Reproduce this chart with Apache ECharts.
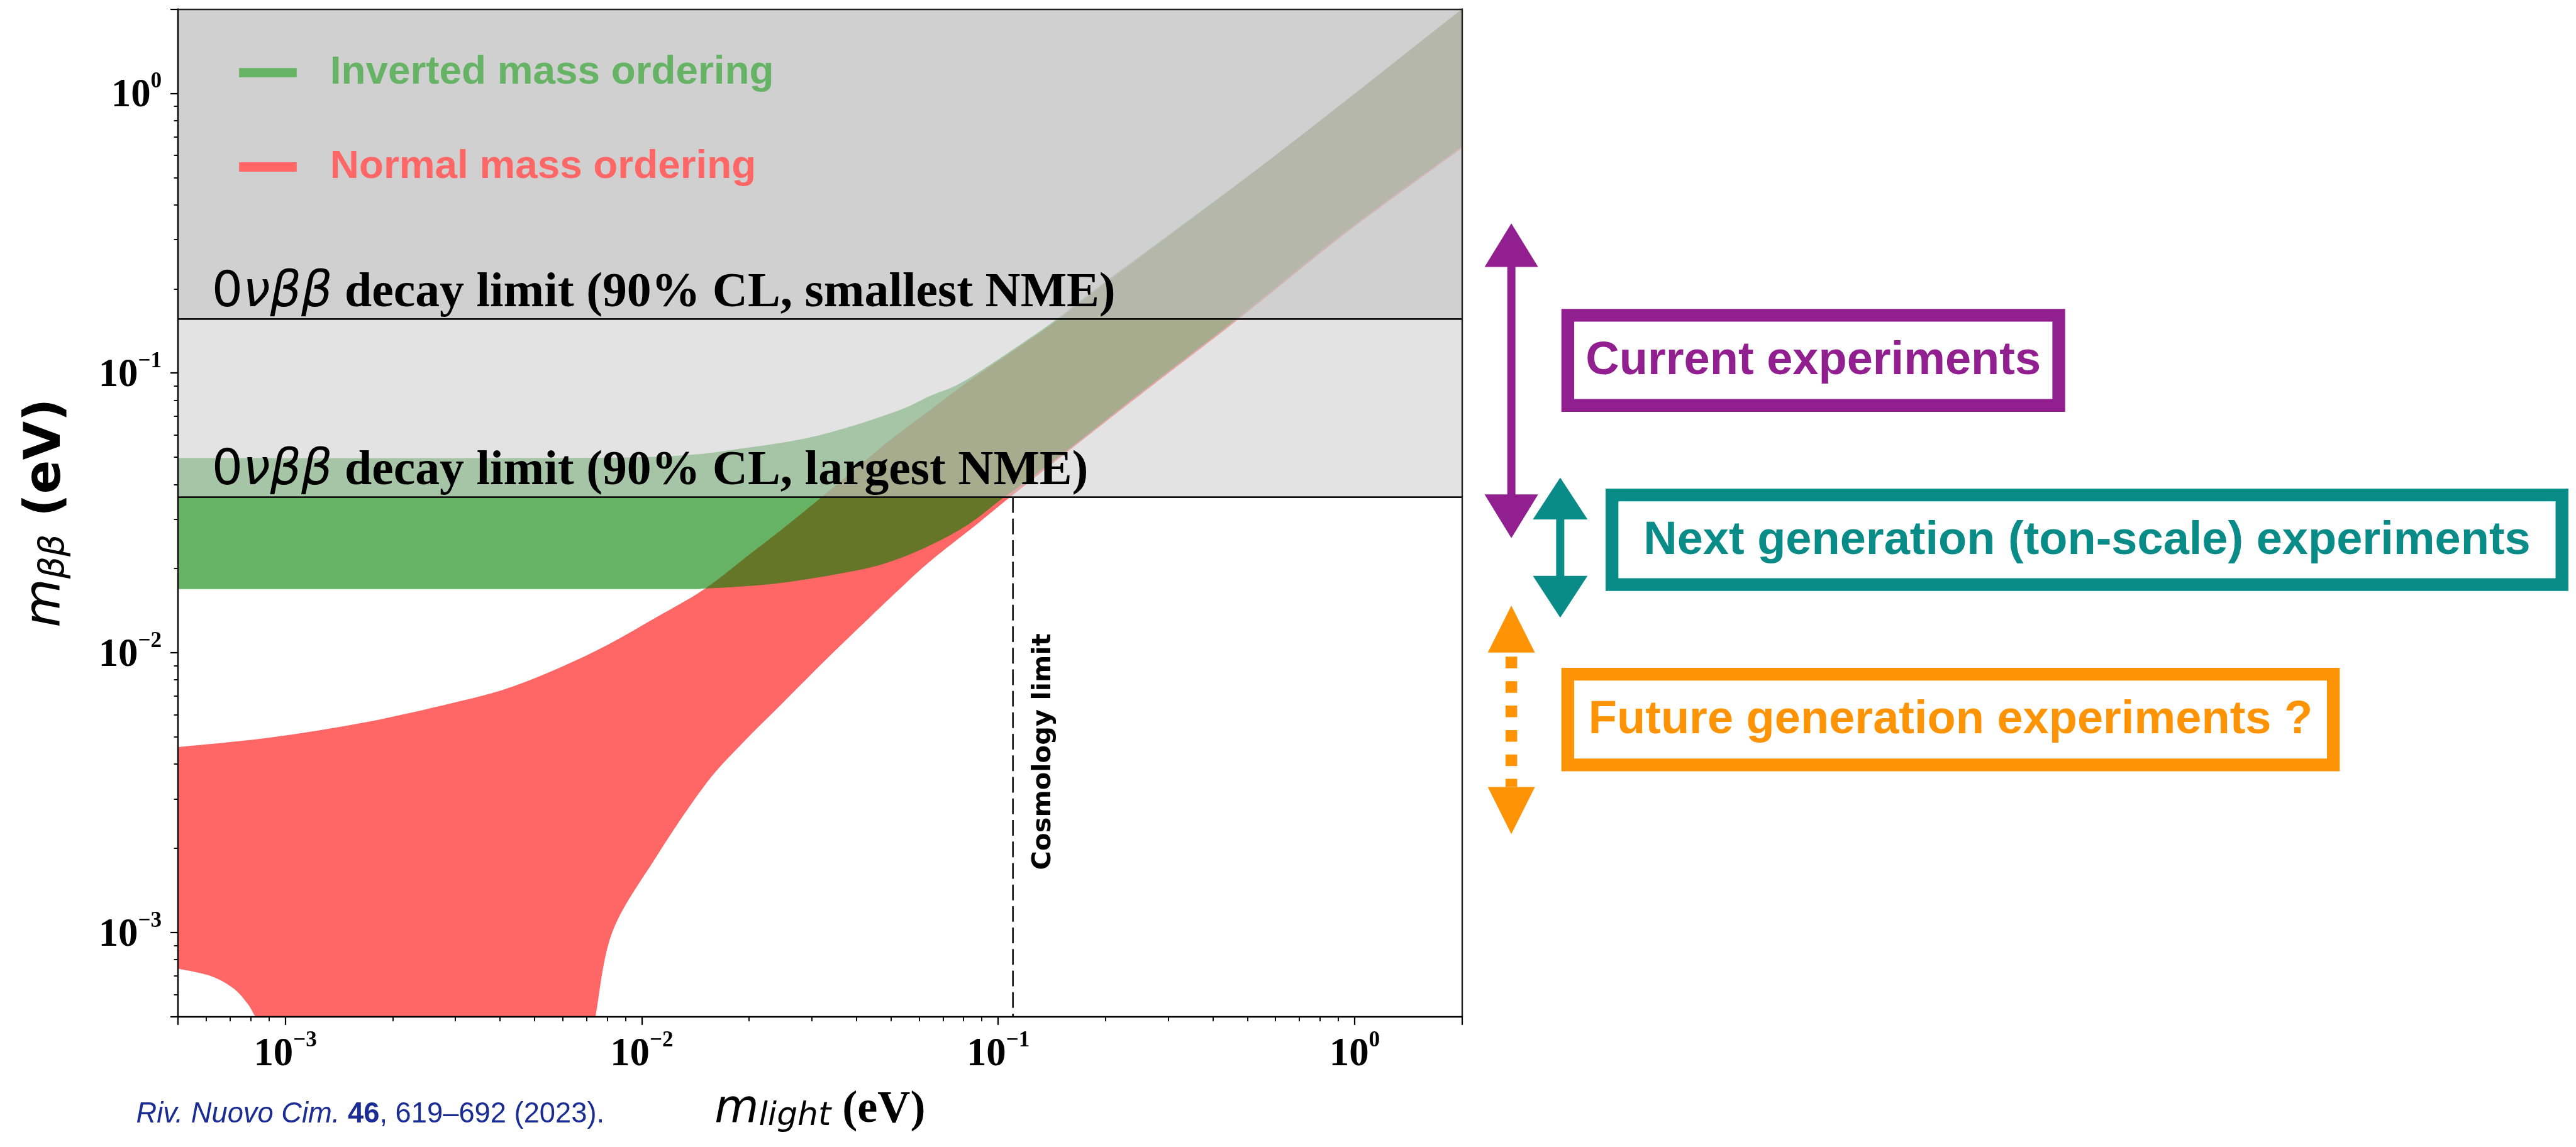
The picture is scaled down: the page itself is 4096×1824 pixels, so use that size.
<!DOCTYPE html>
<html>
<head>
<meta charset="utf-8">
<title>m_bb vs m_light</title>
<script src="https://cdn.jsdelivr.net/npm/echarts@6/dist/echarts.min.js"></script>
<style>
  html, body { margin: 0; padding: 0; background: #fff; }
  #chart { width: 4096px; height: 1824px; }
</style>
</head>
<body>
<div id="chart"></div>
<script>
// everything is laid out in reference pixels and scaled down
var S = 0.925;
function s(v) { return v * S; }

// axis ranges (eV)
var xMin = 5e-4, xMax = 2, yMin = 5e-4, yMax = 2;

// normal ordering band
var noUpperM = [5e-4, 9.1e-4, 1.7e-3, 3.16e-3, 4.31e-3, 5.89e-3, 8.05e-3, 0.0110, 0.0150, 0.0200, 0.0249, 0.0316, 0.0402, 0.0511, 0.0648, 0.0826, 0.140, 0.191, 0.60, 2.0];
var noUpperV = [4.6e-3, 4.98e-3, 5.66e-3, 6.76e-3, 7.55e-3, 8.85e-3, 0.0107, 0.0134, 0.0169, 0.0224, 0.0278, 0.0356, 0.046, 0.0592, 0.0742, 0.0934, 0.148, 0.200, 0.60, 2.0];
var noLowerM = [5e-4, 6.2e-4, 7.16e-4, 7.83e-4, 8.26e-4, 8.5e-4, 7.25e-3, 7.41e-3, 8.26e-3, 0.011, 0.0150, 0.019, 0.0248, 0.033, 0.0434, 0.0529, 0.0646, 0.0886, 0.108, 0.140, 0.1696, 0.1993, 0.287, 0.473, 0.938, 2.0];
var noLowerV = [7.43e-4, 6.98e-4, 6.31e-4, 5.58e-4, 5.0e-4, 1e-6, 1e-6, 5.0e-4, 1.0e-3, 1.87e-3, 3.35e-3, 4.7e-3, 6.6e-3, 9.5e-3, 0.0133, 0.0169, 0.0213, 0.0293, 0.036, 0.0468, 0.0567, 0.0666, 0.0955, 0.156, 0.314, 0.637];

// inverted ordering band
var ioUpperM = [5e-4, 0.005, 0.0121, 0.0196, 0.0316, 0.0511, 0.0649, 0.0826, 0.140, 0.191, 0.60, 2.0];
var ioUpperV = [0.0497, 0.0497, 0.0505, 0.0540, 0.0600, 0.0725, 0.0832, 0.0956, 0.150, 0.203, 0.60, 2.0];
var ioLowerM = [5e-4, 0.010, 0.0154, 0.0248, 0.0402, 0.0511, 0.0648, 0.0826, 0.1027, 0.1185, 0.1696, 0.1993, 0.287, 0.473, 0.938, 2.0];
var ioLowerV = [0.0169, 0.0169, 0.0170, 0.0178, 0.0197, 0.0214, 0.0243, 0.0288, 0.0356, 0.0405, 0.0575, 0.0676, 0.0970, 0.1585, 0.319, 0.647];

// 0vbb limits (largest / smallest NME) and cosmology bound
var limitValues = [0.036, 0.156];
var limitNames = ['largest NME', 'smallest NME'];
var cosmoLimit = [0.11];

var noColor = 'rgba(255,0,0,0.6)';
var ioColor = 'rgba(0,128,0,0.6)';
var overlayFill = ['rgba(208,208,208,0.6)', 'rgba(193,193,193,0.56)'];

function pairs(ms, vs) {
  return ms.map(function (m, i) { return [m, vs[i]]; });
}

function clampPt(p, cs) {
  return [Math.min(Math.max(p[0], cs.x), cs.x + cs.width),
          Math.min(Math.max(p[1], cs.y), cs.y + cs.height)];
}

// catmull-rom through pixel points, control points kept inside the grid
function smoothSeg(pts, cs) {
  var d = '';
  for (var i = 0; i < pts.length - 1; i++) {
    var p0 = pts[i - 1] || pts[i], p1 = pts[i], p2 = pts[i + 1], p3 = pts[i + 2] || p2;
    var c1 = clampPt([p1[0] + (p2[0] - p0[0]) / 6, p1[1] + (p2[1] - p0[1]) / 6], cs);
    var c2 = clampPt([p2[0] - (p3[0] - p1[0]) / 6, p2[1] - (p3[1] - p1[1]) / 6], cs);
    d += ' C' + c1[0] + ' ' + c1[1] + ' ' + c2[0] + ' ' + c2[1] + ' ' + p2[0] + ' ' + p2[1];
  }
  return d;
}

function bandSeries(name, upper, lower, fill, z) {
  return {
    name: name,
    type: 'custom',
    z: z,
    itemStyle: { color: fill },
    encode: { x: 0, y: 1 },
    data: upper.concat(lower.slice().reverse()),
    renderItem: function (params, api) {
      if (params.dataIndex !== 0) return;
      var cs = params.coordSys;
      var up = upper.map(function (p) { return clampPt(api.coord(p), cs); });
      var lo = lower.slice().reverse().map(function (p) { return clampPt(api.coord(p), cs); });
      var d = 'M' + up[0][0] + ' ' + up[0][1] + smoothSeg(up, cs) +
              ' L' + lo[0][0] + ' ' + lo[0][1] + smoothSeg(lo, cs) + ' Z';
      return { type: 'path', shape: { pathData: d }, style: { fill: fill } };
    }
  };
}

var limitRich = {
  z: { fontFamily: 'DejaVu Sans', fontSize: s(84), fill: '#000', verticalAlign: 'bottom' },
  g: { fontFamily: 'DejaVu Sans', fontStyle: 'italic', fontSize: s(84), fill: '#000', verticalAlign: 'bottom' },
  t: { fontFamily: 'Liberation Serif', fontWeight: 'bold', fontSize: s(84), fill: '#000', verticalAlign: 'bottom' }
};

function powLabel(v) {
  var e = Math.log10(v), r = Math.round(e);
  if (Math.abs(e - r) > 1e-6) return '';
  return '{b|10}{p|' + (r < 0 ? '\u2212' + (-r) : r) + '}';
}
var tickRich = {
  b: { fontFamily: 'Liberation Serif', fontWeight: 'bold', fontSize: s(68), color: '#000', verticalAlign: 'bottom' },
  p: { fontFamily: 'Liberation Serif', fontWeight: 'bold', fontSize: s(38), color: '#000', verticalAlign: 'bottom', padding: [0, 0, s(40), 0] }
};

var purple = '#911f90', teal = '#098b87', orange = '#ff9306';

function arrow(x, y1, y2, headW, headL, shaftW, color, dashed) {
  var els = [
    { type: 'polygon', shape: { points: [[x, y1], [x - headW / 2, y1 + headL], [x + headW / 2, y1 + headL]] }, style: { fill: color } },
    { type: 'polygon', shape: { points: [[x, y2], [x - headW / 2, y2 - headL], [x + headW / 2, y2 - headL]] }, style: { fill: color } }
  ];
  if (dashed) {
    els.push({ type: 'line', shape: { x1: x, y1: y1 + headL + s(7), x2: x, y2: y2 - headL }, style: { stroke: color, lineWidth: shaftW, lineDash: [s(20), s(22)] } });
  } else {
    els.push({ type: 'rect', shape: { x: x - shaftW / 2, y: y1 + headL - 2, width: shaftW, height: y2 - y1 - 2 * headL + 4 }, style: { fill: color } });
  }
  return els;
}

function box(x1, y1, x2, y2, color, label) {
  return [
    { type: 'rect', shape: { x: s(x1), y: s(y1), width: s(x2 - x1), height: s(y2 - y1) }, style: { fill: 'none', stroke: color, lineWidth: s(22) } },
    { type: 'text', x: s((x1 + x2) / 2), y: s((y1 + y2) / 2 + 2), style: { text: label, fill: color, fontFamily: 'Liberation Sans', fontWeight: 'bold', fontSize: s(80), align: 'center', verticalAlign: 'middle' } }
  ];
}

var graphics = []
  .concat(arrow(s(2598), s(384), s(925), s(92), s(75), s(14), purple, false))
  .concat(arrow(s(2682), s(821), s(1062), s(94), s(72), s(14), teal, false))
  .concat(arrow(s(2598), s(1041), s(1434), s(81), s(81), s(20), orange, true))
  .concat(box(2695, 542, 3539, 697, purple, 'Current experiments'))
  .concat(box(2771, 851, 4404, 1005, teal, 'Next generation (ton-scale) experiments'))
  .concat(box(2695, 1159, 4011, 1315, orange, 'Future generation experiments ?'));

var citeColor = '#1b2c94';
graphics.push({
  type: 'text', x: s(234), y: s(1916),
  style: {
    text: '{i|Riv. Nuovo Cim. }{b|46}{r|, 619\u2013692 (2023).}',
    verticalAlign: 'middle',
    rich: {
      i: { fontFamily: 'Liberation Sans', fontStyle: 'italic', fontSize: s(49), fill: citeColor },
      b: { fontFamily: 'Liberation Sans', fontWeight: 'bold', fontSize: s(49), fill: citeColor },
      r: { fontFamily: 'Liberation Sans', fontSize: s(49), fill: citeColor }
    }
  }
});

var chart = echarts.init(document.getElementById('chart'));

var option = {
  backgroundColor: '#fff',
  animation: false,
  grid: {
    left: s(306), top: s(15.6), width: s(2207), height: s(1732.4),
    containLabel: false, outerBoundsMode: 'none',
    show: false
  },
  legend: {
    orient: 'vertical', left: s(411), top: s(125) - s(49.5), padding: 0, z: 20,
    itemWidth: s(99), itemHeight: s(16), itemGap: s(63),
    selectedMode: false,
    textStyle: { fontFamily: 'Liberation Sans', fontWeight: 'bold', fontSize: s(69), lineHeight: s(69), padding: [s(30), 0, 0, s(52)] },
    data: [
      { name: 'Inverted mass ordering', icon: 'rect', itemStyle: { color: '#66b366' }, textStyle: { color: '#66b366' } },
      { name: 'Normal mass ordering', icon: 'rect', itemStyle: { color: '#ff6666' }, textStyle: { color: '#ff6666' } }
    ]
  },
  xAxis: [{
    type: 'log', logBase: 10, min: xMin, max: xMax, z: 10,
    axisLine: { show: true, lineStyle: { color: '#000', width: s(2.6) } },
    axisTick: { show: true, length: s(14), lineStyle: { color: '#000', width: s(2.4) } },
    minorTick: { show: true, splitNumber: 9, length: s(8), lineStyle: { color: '#000', width: s(2) } },
    splitLine: { show: false },
    axisLabel: { formatter: powLabel, rich: tickRich, margin: s(22), showMinLabel: false, showMaxLabel: false },
    name: '{m|m}{sub|light}{u| (eV)}',
    nameLocation: 'middle', nameGap: s(122),
    nameTextStyle: {
      rich: {
        m: { fontFamily: 'DejaVu Sans', fontStyle: 'italic', fontSize: s(78), color: '#000', verticalAlign: 'bottom' },
        sub: { fontFamily: 'DejaVu Sans', fontStyle: 'italic', fontSize: s(56), color: '#000', verticalAlign: 'bottom' },
        u: { fontFamily: 'Liberation Serif', fontWeight: 'bold', fontSize: s(78), color: '#000', verticalAlign: 'bottom' }
      }
    }
  }, {
    type: 'value', position: 'top', min: 0, max: 1, z: 10,
    axisLine: { show: true, lineStyle: { color: '#222', width: s(2.6) } },
    axisTick: { show: false }, axisLabel: { show: false }, splitLine: { show: false }
  }],
  yAxis: [{
    type: 'log', logBase: 10, min: yMin, max: yMax, z: 10,
    axisLine: { show: true, lineStyle: { color: '#000', width: s(2.6) } },
    axisTick: { show: true, length: s(13), lineStyle: { color: '#000', width: s(2.4) } },
    minorTick: { show: true, splitNumber: 9, length: s(7), lineStyle: { color: '#000', width: s(2) } },
    splitLine: { show: false },
    axisLabel: { formatter: powLabel, rich: tickRich, margin: s(28), showMinLabel: false, showMaxLabel: false },
    name: '{m|m}{sub|\u03b2\u03b2}{u| (eV)}',
    nameLocation: 'middle', nameRotate: 90, nameGap: s(182),
    nameTextStyle: {
      rich: {
        m: { fontFamily: 'DejaVu Sans', fontStyle: 'italic', fontSize: s(86), color: '#000', verticalAlign: 'bottom' },
        sub: { fontFamily: 'DejaVu Sans', fontStyle: 'italic', fontSize: s(60), color: '#000', verticalAlign: 'bottom' },
        u: { fontFamily: 'DejaVu Sans', fontWeight: 'bold', fontSize: s(86), color: '#000', verticalAlign: 'bottom' }
      }
    }
  }, {
    type: 'value', position: 'right', min: 0, max: 1, z: 10,
    axisLine: { show: true, lineStyle: { color: '#222', width: s(2.6) } },
    axisTick: { show: false }, axisLabel: { show: false }, splitLine: { show: false }
  }],
  graphic: graphics,
  series: [
    bandSeries('Normal mass ordering', pairs(noUpperM, noUpperV), pairs(noLowerM, noLowerV), noColor, 2),
    bandSeries('Inverted mass ordering', pairs(ioUpperM, ioUpperV), pairs(ioLowerM, ioLowerV), ioColor, 3),
    {
      name: 'limits', type: 'custom', z: 4,
      encode: { y: 0 },
      data: limitValues.map(function (v) { return [v]; }),
      renderItem: function (params, api) {
        var cs = params.coordSys;
        var v = api.value(0);
        var py = api.coord([xMin, v])[1];
        return {
          type: 'group',
          children: [
            { type: 'rect', shape: { x: cs.x, y: cs.y, width: cs.width, height: py - cs.y }, style: { fill: overlayFill[params.dataIndex] } },
            { type: 'line', shape: { x1: cs.x, y1: py, x2: cs.x + cs.width, y2: py }, style: { stroke: '#111', lineWidth: s(3) }, z2: 5 },
            {
              type: 'text', x: cs.x + s(58), y: py - s(2), z2: 6,
              style: {
                text: '{z|0}{g|\u03bd\u03b2\u03b2}{t| decay limit (90% CL, ' + limitNames[params.dataIndex] + ')}',
                rich: limitRich, verticalAlign: 'bottom'
              }
            }
          ]
        };
      }
    },
    {
      name: 'cosmology', type: 'custom', z: 5,
      encode: { x: 0 },
      data: cosmoLimit.map(function (v) { return [v]; }),
      renderItem: function (params, api) {
        var v = api.value(0);
        var p1 = api.coord([v, limitValues[0]]);
        var p2 = api.coord([v, yMin]);
        return {
          type: 'group',
          children: [
            { type: 'line', shape: { x1: p1[0], y1: p1[1], x2: p2[0], y2: p2[1] }, style: { stroke: '#222', lineWidth: s(3), lineDash: [s(27), s(10)] } },
            {
              type: 'text', x: p1[0] + s(53), y: (p1[1] + p2[1]) / 2 - s(9), rotation: Math.PI / 2,
              style: { text: 'Cosmology limit', fill: '#000', fontFamily: 'DejaVu Sans', fontWeight: 'bold', fontSize: s(45), align: 'center', verticalAlign: 'middle' }
            }
          ]
        };
      }
    }
  ]
};

chart.setOption(option);
</script>
</body>
</html>
